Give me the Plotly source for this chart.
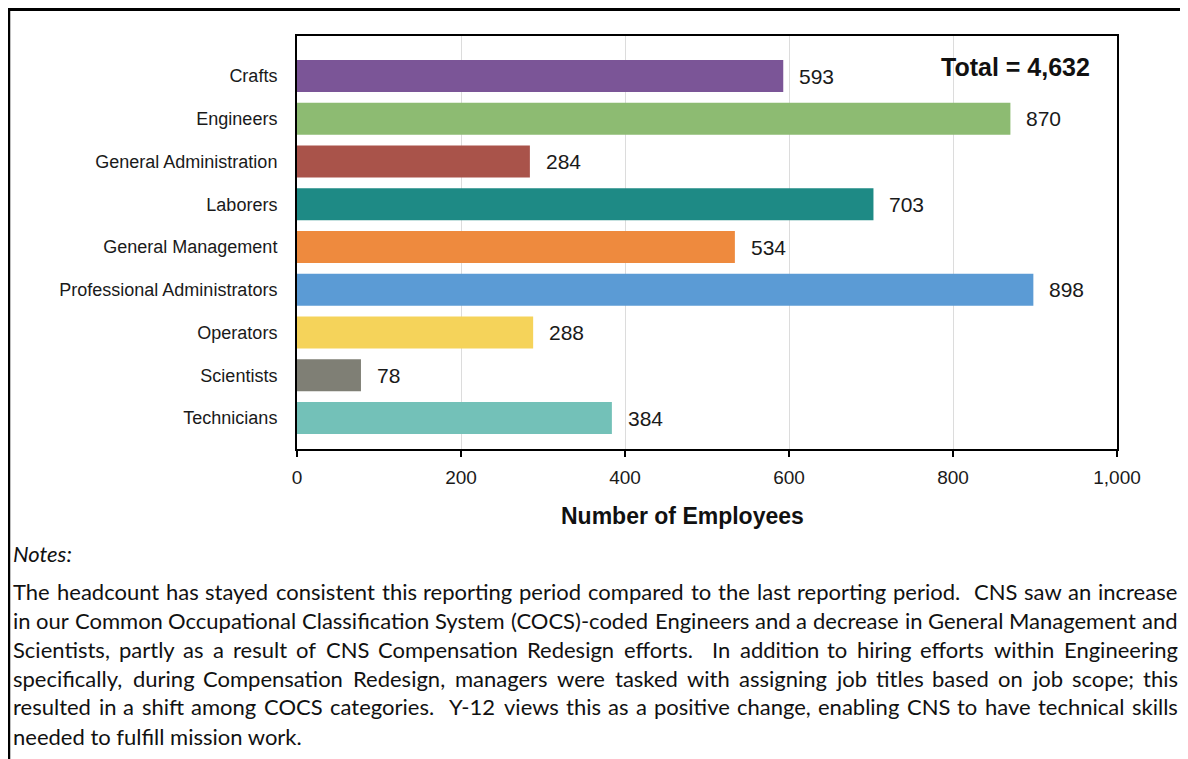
import glob
import struct

import plotly.graph_objects as go

# data
categories = ["Crafts", "Engineers", "General Administration", "Laborers",
              "General Management", "Professional Administrators", "Operators",
              "Scientists", "Technicians"]
employees = [593, 870, 284, 703, 534, 898, 288, 78, 384]
bar_colors = ["#7b5597", "#8dbb72", "#a9534a", "#1e8a85", "#ee8a3e",
              "#5b9bd5", "#f5d35a", "#7f7f75", "#73c1b8"]
x_ticks = [0, 200, 400, 600, 800, 1000]

notes_title = "Notes:"
notes_lines = [
    "The headcount has stayed consistent this reporting period compared to the last reporting period.  CNS saw an increase",
    "in our Common Occupational Classification System (COCS)-coded Engineers and a decrease in General Management and",
    "Scientists, partly as a result of CNS Compensation Redesign efforts.  In addition to hiring efforts within Engineering",
    "specifically, during Compensation Redesign, managers were tasked with assigning job titles based on job scope; this",
    "resulted in a shift among COCS categories.  Y-12 views this as a positive change, enabling CNS to have technical skills",
    "needed to fulfill mission work.",
]

# the page body has an 8px margin, so the figure is 8px smaller than the window
OFF = 8
W, H = 1188 - OFF, 759 - OFF
# plot area in window pixels
L, R, T, B = 297, 1117, 36, 449


def px(x):
    return (x - L) / (R - L)


def py(y):
    return (B - y) / (B - T)


################################################################################
# glyph widths for justifying the notes (read from the installed Lato file,
# fall back to Helvetica-like widths if it can't be found)
################################################################################

def read_advances(path):
    data = open(path, "rb").read()
    n_tables = struct.unpack(">H", data[4:6])[0]
    tab = {}
    for k in range(n_tables):
        rec = data[12 + 16 * k: 28 + 16 * k]
        tab[rec[:4].decode("latin-1")] = struct.unpack(">I", rec[8:12])[0]
    upem = struct.unpack(">H", data[tab["head"] + 18: tab["head"] + 20])[0]
    n_hm = struct.unpack(">H", data[tab["hhea"] + 34: tab["hhea"] + 36])[0]
    hm = tab["hmtx"]

    def adv(g):
        g = min(g, n_hm - 1)
        return struct.unpack(">H", data[hm + 4 * g: hm + 4 * g + 2])[0]

    cm = tab["cmap"]
    sub = None
    for k in range(struct.unpack(">H", data[cm + 2: cm + 4])[0]):
        pid, eid, off = struct.unpack(">HHI", data[cm + 4 + 8 * k: cm + 12 + 8 * k])
        if pid == 3 and eid == 1:
            sub = cm + off
    if sub is None or struct.unpack(">H", data[sub: sub + 2])[0] != 4:
        return None
    seg = struct.unpack(">H", data[sub + 6: sub + 8])[0] // 2
    ends = struct.unpack(">%dH" % seg, data[sub + 14: sub + 14 + 2 * seg])
    p = sub + 16 + 2 * seg
    starts = struct.unpack(">%dH" % seg, data[p: p + 2 * seg])
    deltas = struct.unpack(">%dH" % seg, data[p + 2 * seg: p + 4 * seg])
    ro_base = p + 4 * seg
    ros = struct.unpack(">%dH" % seg, data[ro_base: ro_base + 2 * seg])

    widths = {}
    for code in range(32, 127):
        for i in range(seg):
            if ends[i] >= code:
                g = 0
                if starts[i] <= code:
                    if ros[i] == 0:
                        g = (code + deltas[i]) & 0xFFFF
                    else:
                        a = ro_base + 2 * i + ros[i] + 2 * (code - starts[i])
                        g = struct.unpack(">H", data[a: a + 2])[0]
                        if g:
                            g = (g + deltas[i]) & 0xFFFF
                widths[chr(code)] = adv(g) * 1000 / upem
                break
    return widths


char_w = None
for pat in ["/usr/share/fonts/**/Lato-Regular.ttf", "/usr/local/share/fonts/**/Lato-Regular.ttf",
            "/usr/share/fonts/**/Lato-Reg.ttf"]:
    found = glob.glob(pat, recursive=True)
    if found:
        try:
            char_w = read_advances(found[0])
        except Exception:
            char_w = None
        if char_w:
            break

if not char_w:
    char_w = {" ": 278, ",": 278, ".": 278, "-": 333, "(": 333, ")": 333, ";": 278, ":": 278}
    char_w.update({d: 556 for d in "0123456789"})
    char_w.update(dict(zip("ABCDEFGHIJKLMNOPQRSTUVWXYZ",
                           [667, 667, 722, 722, 667, 611, 778, 722, 278, 500, 667, 556, 833,
                            722, 778, 667, 778, 722, 667, 611, 722, 667, 944, 667, 667, 611])))
    char_w.update(dict(zip("abcdefghijklmnopqrstuvwxyz",
                           [556, 556, 500, 556, 556, 278, 556, 556, 222, 222, 500, 222, 833,
                            556, 556, 556, 556, 333, 500, 278, 556, 500, 722, 500, 500, 500])))


def text_width(s, size):
    return sum(char_w.get(ch, 556) for ch in s) * size / 1000


################################################################################
# figure
################################################################################

fig = go.Figure()
fig.add_trace(go.Bar(
    y=categories, x=employees, orientation="h",
    marker=dict(color=bar_colors, line=dict(width=0)),
    hoverinfo="x+y",
))

ann = []
for c, v in zip(categories, employees):
    ann.append(dict(x=v, y=c, xref="x", yref="y", text=str(v), showarrow=False,
                    xanchor="left", xshift=14,
                    font=dict(family="Liberation Sans", size=21, color="#1a1a1a")))

ann.append(dict(x=px(1092), y=py(67), xref="paper", yref="paper",
                text="<b>Total = {:,}</b>".format(sum(employees)), showarrow=False,
                xanchor="right", yanchor="middle",
                font=dict(family="Liberation Sans", size=25, color="#111")))

ann.append(dict(x=px(682), y=py(516), xref="paper", yref="paper",
                text="<b>Number of Employees</b>", showarrow=False,
                xanchor="center", yanchor="middle",
                font=dict(family="Liberation Sans", size=23, color="#111")))

NOTE_SIZE = 22
note_font = dict(family="Lato", size=NOTE_SIZE, color="#111")
ann.append(dict(x=px(13), y=py(553), xref="paper", yref="paper",
                text="<i>" + notes_title + "</i>", showarrow=False,
                xanchor="left", yanchor="middle", font=note_font,
                borderpad=0, borderwidth=0))

x_left, x_right = 13, 1178
for i, line in enumerate(notes_lines):
    yy = py(591 + 29 * i)
    if i == len(notes_lines) - 1:
        ann.append(dict(x=px(x_left), y=yy, xref="paper", yref="paper", text=line,
                        showarrow=False, xanchor="left", yanchor="middle", font=note_font,
                        borderpad=0, borderwidth=0))
        continue
    # justified line: spread the spare width evenly over the spaces
    n_space = line.count(" ")
    spare = (x_right - x_left) - text_width(line, NOTE_SIZE)
    extra = spare / n_space
    pos = x_left
    for tok in line.split(" "):
        if tok:
            ann.append(dict(x=px(pos), y=yy, xref="paper", yref="paper", text=tok,
                            showarrow=False, xanchor="left", yanchor="middle",
                            font=note_font, borderpad=0, borderwidth=0))
            pos += text_width(tok, NOTE_SIZE)
        pos += text_width(" ", NOTE_SIZE) + extra

shapes = [
    dict(type="line", xref="paper", yref="paper", x0=px(OFF), x1=px(1200),
         y0=py(OFF + 1.5), y1=py(OFF + 1.5), line=dict(color="black", width=3)),
    dict(type="line", xref="paper", yref="paper", x0=px(OFF + 1), x1=px(OFF + 1),
         y0=py(OFF), y1=py(770), line=dict(color="black", width=2.5)),
]

fig.update_layout(
    width=W, height=H,
    margin=dict(l=L - OFF, r=W + OFF - R, t=T - OFF, b=H + OFF - B, pad=0),
    paper_bgcolor="white", plot_bgcolor="white",
    showlegend=False, bargap=0.25,
    annotations=ann, shapes=shapes,
    font=dict(family="Liberation Sans", color="#1a1a1a"),
)
fig.update_xaxes(
    range=[0, 1000], tickvals=x_ticks, tickformat=",",
    showgrid=True, gridcolor="#dcdcdc", gridwidth=1,
    showline=True, linecolor="black", linewidth=2, mirror=True,
    ticks="outside", ticklen=6, tickcolor="black", tickwidth=1.5,
    tickfont=dict(size=19, color="#1a1a1a"), ticklabelstandoff=4,
    zeroline=False,
)
fig.update_yaxes(
    categoryorder="array", categoryarray=categories,
    range=[8.725, -0.936],
    showline=True, linecolor="black", linewidth=2, mirror=True,
    showgrid=False, ticks="", ticklabelstandoff=14,
    tickfont=dict(size=18, color="#1a1a1a"),
)

fig.write_html("out.html")
